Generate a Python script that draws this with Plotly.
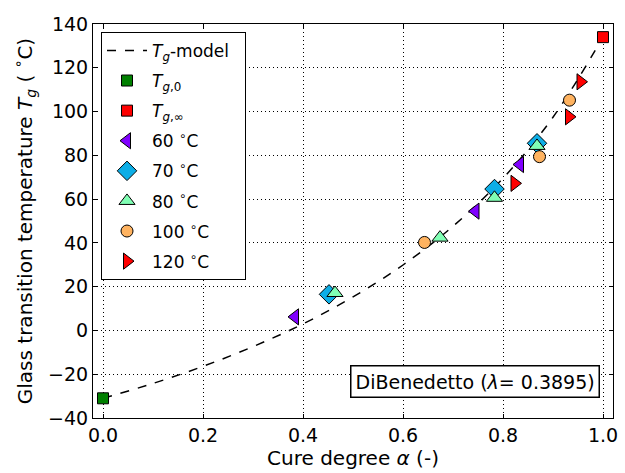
import plotly.graph_objects as go

# ---- data ----
model_alpha = [0.0, 0.1, 0.2, 0.3, 0.4, 0.5, 0.6, 0.7, 0.8, 0.9, 1.0]
model_tg = [-31.0, -24.2, -16.4, -7.4, 3.0, 15.3, 29.9, 47.6, 69.5, 97.4, 134.0]

tg0_alpha = [0.0]
tg0_val = [-31.0]
tginf_alpha = [1.0]
tginf_val = [134.0]

a60 = [0.384, 0.745, 0.834]
t60 = [6.2, 54.5, 75.8]
a70 = [0.452, 0.783, 0.868]
t70 = [16.5, 64.6, 85.5]
a80 = [0.464, 0.674, 0.783, 0.868]
t80 = [17.1, 42.4, 60.6, 84.3]
a100 = [0.643, 0.873, 0.933]
t100 = [40.2, 79.4, 105.2]
a120 = [0.823, 0.932, 0.955]
t120 = [67.2, 97.6, 113.6]

x_ticks = [0.0, 0.2, 0.4, 0.6, 0.8, 1.0]
y_ticks = [-40, -20, 0, 20, 40, 60, 80, 100, 120, 140]

FONT = "DejaVu Sans"
deg = "<sup>∘</sup>C"
FS = 19

fig = go.Figure()
edge = dict(color="black", width=1)

fig.add_trace(go.Scatter(x=model_alpha, y=model_tg, mode="lines",
                         line=dict(color="black", width=1.5, dash="9px,9px", shape="spline"),
                         name="<i>T</i><sub><i>g</i></sub>-model&nbsp;&nbsp;", legendgroup="a"))
fig.add_trace(go.Scatter(x=tg0_alpha, y=tg0_val, mode="markers",
                         marker=dict(symbol="square", size=11, color="#008000", line=edge),
                         name="<i>T</i><sub><i>g</i>,0</sub>", legendgroup="b"))
fig.add_trace(go.Scatter(x=tginf_alpha, y=tginf_val, mode="markers",
                         marker=dict(symbol="square", size=11, color="#FF0000", line=edge),
                         name="<i>T</i><sub><i>g</i>,∞</sub>", legendgroup="c"))
fig.add_trace(go.Scatter(x=a60, y=t60, mode="markers",
                         marker=dict(symbol="triangle-left", size=14, color="#8000FF", line=edge),
                         name="60 " + deg, legendgroup="d"))
fig.add_trace(go.Scatter(x=a70, y=t70, mode="markers",
                         marker=dict(symbol="diamond", size=15, color="#0DAEE6", line=edge),
                         name="70 " + deg, legendgroup="e"))
fig.add_trace(go.Scatter(x=a80, y=t80, mode="markers",
                         marker=dict(symbol="triangle-up", size=14, color="#80FFB4", line=edge),
                         name="80 " + deg, legendgroup="f"))
fig.add_trace(go.Scatter(x=a100, y=t100, mode="markers",
                         marker=dict(symbol="circle", size=12, color="#FFB360", line=edge),
                         name="100 " + deg, legendgroup="g"))
fig.add_trace(go.Scatter(x=a120, y=t120, mode="markers",
                         marker=dict(symbol="triangle-right", size=14, color="#FF0000", line=edge),
                         name="120 " + deg, legendgroup="h"))

axis_common = dict(
    showline=True, linecolor="black", linewidth=1, mirror="allticks",
    ticks="inside", ticklen=4, tickcolor="black", tickwidth=1,
    showgrid=True, gridcolor="black", gridwidth=1, griddash="1px,3px",
    zeroline=False, tickfont=dict(family=FONT, size=FS, color="black"),
)

fig.update_xaxes(range=[-0.02, 1.02], tickvals=x_ticks,
                 ticktext=[f"{v:.1f}" for v in x_ticks],
                 title=dict(text="Cure degree <i>α</i> (-)", font=dict(family=FONT, size=20, color="black"),
                            standoff=4),
                 **axis_common)
fig.update_yaxes(range=[-40, 140], tickvals=y_ticks,
                 ticktext=[str(v).replace("-", "−") for v in y_ticks],
                 title=dict(text="Glass transition temperature <i>T</i><sub><i>g</i></sub> ( " + deg + ")",
                            font=dict(family=FONT, size=20, color="black"), standoff=10),
                 **axis_common)

fig.add_annotation(xref="paper", yref="paper", x=0.975, y=0.05,
                   xanchor="right", yanchor="bottom", showarrow=False,
                   text="DiBenedetto (<i>λ</i>= 0.3895)",
                   font=dict(family=FONT, size=FS, color="black"),
                   bordercolor="black", borderwidth=1.5, borderpad=4, bgcolor="white")

fig.update_layout(
    width=625, height=473,
    margin=dict(l=93, r=7, t=24, b=55),
    plot_bgcolor="white", paper_bgcolor="white",
    font=dict(family=FONT, size=17, color="black"),
    legend=dict(x=0.0154, y=0.98, xanchor="left", yanchor="top",
                bordercolor="black", borderwidth=1, bgcolor="white",
                traceorder="grouped", tracegroupgap=5, itemwidth=40,
                font=dict(family=FONT, size=17, color="black")),
    showlegend=True,
)

fig.write_html("out.html", config={"displayModeBar": False},
               post_script="document.body.style.margin='0px';")
